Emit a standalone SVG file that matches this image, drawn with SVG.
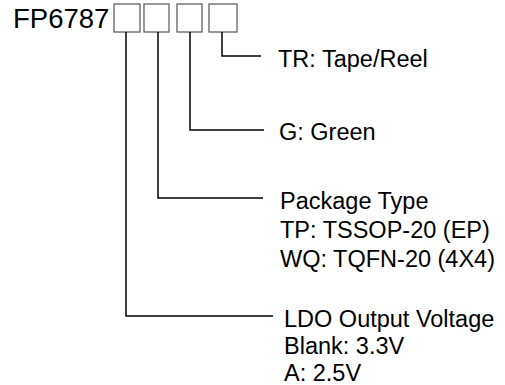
<svg xmlns="http://www.w3.org/2000/svg" width="505" height="385" viewBox="0 0 505 385">
<style>
.t{font-family:"Liberation Sans",Arial,sans-serif;font-size:23.5px;fill:#000}
.box{fill:#fff;stroke:#555;stroke-width:1.2}
.ln{fill:none;stroke:#000;stroke-width:1.5}
</style>
<rect width="505" height="385" fill="#fff"/>
<g id="part">
<text class="t" x="13" y="28" style="font-size:27.5px">FP6787</text>
<rect class="box" x="114" y="4" width="26" height="28"/>
<rect class="box" x="144" y="4" width="25" height="28"/>
<rect class="box" x="177" y="4" width="25" height="28"/>
<rect class="box" x="209" y="4" width="28" height="28"/>
</g>
<g id="connectors">
<polyline class="ln" points="222,32 222,56 261,56"/>
<polyline class="ln" points="190,32 190,130 264,130"/>
<polyline class="ln" points="158,32 158,198 263,198"/>
<polyline class="ln" points="126,32 126,316 273,316"/>
</g>
<g id="tr"><text class="t" x="278" y="67">TR: Tape/Reel</text></g>
<g id="g"><text class="t" x="279" y="140">G: Green</text></g>
<g id="pkg">
<text class="t" x="280" y="209">Package Type</text>
<text class="t" x="280" y="238">TP: TSSOP-20 (EP)</text>
<text class="t" x="280" y="267">WQ: TQFN-20 (4X4)</text>
</g>
<g id="ldo">
<text class="t" x="284" y="327">LDO Output Voltage</text>
<text class="t" x="284" y="354">Blank: 3.3V</text>
<text class="t" x="284" y="381">A: 2.5V</text>
</g>
</svg>
